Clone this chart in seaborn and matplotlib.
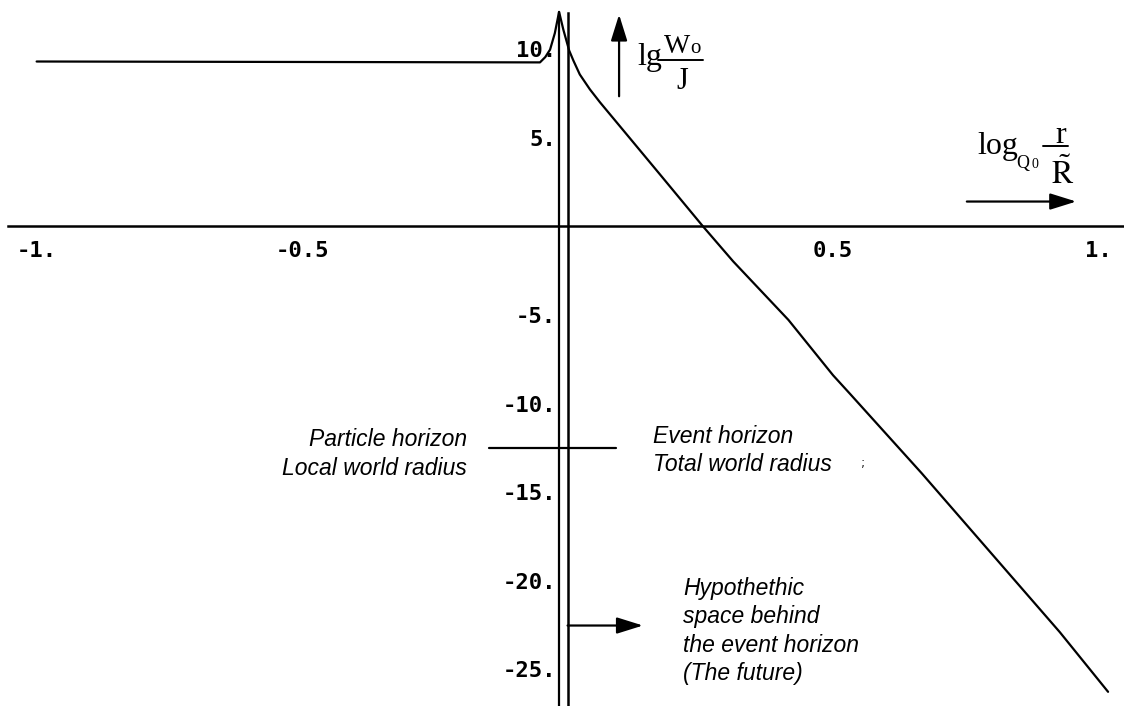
import numpy as np
import matplotlib
matplotlib.use("Agg")
import matplotlib.pyplot as plt
import seaborn as sns

# curve lg(W0/J) against log_Q0(r/R~)
curve_x = [-1.0, -0.052, -0.042, -0.033, -0.024, -0.016, -0.008, 0.003, 0.011, 0.023,
           0.042, 0.061, 0.111, 0.174, 0.255, 0.312, 0.416, 0.5, 0.532, 0.667, 0.927, 1.018]
curve_y = [9.3, 9.25, 9.55, 9.97, 10.9, 12.1, 11.1, 9.92, 9.35, 8.57,
           7.73, 7.0, 5.2, 2.93, 0.0, -1.98, -5.28, -8.4, -9.45, -13.93, -22.89, -26.26]

x_ticks = [-1, -0.5, 0.5, 1]
x_labels = ["-1.", "-0.5", "0.5", "1."]
y_ticks = [10, 5, -5, -10, -15, -20, -25]
y_labels = ["10.", "5.", "-5.", "-10.", "-15.", "-20.", "-25."]

horizon_x = -0.016          # particle horizon line
horizon_top = 12.1
marker_x = [-0.148, 0.091]  # short horizontal mark
marker_y = -12.53

xlim = (-1.069, 1.048)
ylim = (-27.06, 12.77)


def px2data(px, py):
    # place annotations by pixel position in the 1124x706 image
    return (px - 567.5) / 531.0, (228.0 - py) / 17.85


sns.set_style("white")
plt.rcParams["mathtext.fontset"] = "stix"
plt.rcParams["text.color"] = "black"

fig = plt.figure(figsize=(11.24, 7.06), dpi=100)
ax = fig.add_axes([0, 0, 1, 1])
ax.patch.set_alpha(0)

sns.lineplot(x=curve_x, y=curve_y, sort=False, color="black", lw=1.6, ax=ax)
ax.plot([horizon_x, horizon_x], [ylim[0], horizon_top], color="black", lw=1.6)
ax.plot(marker_x, [marker_y, marker_y], color="black", lw=1.6)

ax.set_xlim(*xlim)
ax.set_ylim(*ylim)

for s in ["top", "right"]:
    ax.spines[s].set_visible(False)
ax.spines["left"].set_position(("data", 0))
ax.spines["bottom"].set_position(("data", 0))
ax.spines["left"].set_bounds(ylim[0], 12.05)
ax.spines["bottom"].set_bounds(-1.054, xlim[1])
for s in ["left", "bottom"]:
    ax.spines[s].set_linewidth(1.8)
    ax.spines[s].set_color("black")

tick_font = dict(family="DejaVu Sans Mono", weight="bold", size=16, color="black")
ax.set_xticks(x_ticks)
ax.set_xticklabels(x_labels, **tick_font)
ax.set_yticks(y_ticks)
ax.set_yticklabels(y_labels, **tick_font)
ax.tick_params(direction="inout", length=11, width=1.6, color="black")
ax.tick_params(axis="x", pad=5)
ax.tick_params(axis="y", pad=3)

# axis caption  lg W_o / J
serif = dict(family="Liberation Serif", color="black")
ax.text(*px2data(637, 66), "lg", fontsize=23, ha="left", va="baseline", **serif)
ax.text(*px2data(664, 53), "W", fontsize=20, ha="left", va="baseline", **serif)
ax.text(*px2data(690, 53), "o", fontsize=15, ha="left", va="baseline", **serif)
ax.plot(*zip(px2data(658, 60), px2data(703, 60)), color="black", lw=1.4)
ax.text(*px2data(682, 90), "J", fontsize=22, ha="center", va="baseline", **serif)

# axis caption  log_Q0 r / R~
ax.text(*px2data(977, 155), "log", fontsize=23, ha="left", va="baseline", **serif)
ax.text(*px2data(1016, 169), "Q", fontsize=13, ha="left", va="baseline", **serif)
ax.text(*px2data(1031, 169), "0", fontsize=10, ha="left", va="baseline", **serif)
ax.plot(*zip(px2data(1043, 147), px2data(1068, 147)), color="black", lw=1.4)
ax.text(*px2data(1061, 144), "r", fontsize=23, ha="center", va="baseline", **serif)
ax.text(*px2data(1063, 185), r"$\tilde{\mathrm{R}}$", fontsize=23, ha="center",
        va="baseline", color="black")

arrow = dict(arrowstyle="-|>,head_length=0.8,head_width=0.25", color="black",
             lw=1.6, mutation_scale=20, shrinkA=0, shrinkB=0)
ax.annotate("", xy=(0.097, 11.95), xytext=(0.097, 7.34), arrowprops=arrow)
ax.annotate("", xy=(0.958, 1.4), xytext=(0.752, 1.4), arrowprops=arrow)
ax.annotate("", xy=(0.142, -22.52), xytext=(0.0, -22.52), arrowprops=arrow)

note = dict(family="Liberation Sans", style="italic", size=16.5, linespacing=1.3,
            color="black")
ax.text(-0.189, -12.85, "Particle horizon\nLocal world radius",
        ha="right", va="center", multialignment="right", **note)
ax.text(0.161, -12.66, "Event horizon\nTotal world radius",
        ha="left", va="center", **note)
ax.text(0.556, -13.37, ";", ha="center", va="center", fontsize=9, color="#222222")
ax.text(0.2175, -22.82, "Hypothethic\nspace behind\nthe event horizon\n(The future)",
        ha="left", va="center", **note)

fig.savefig("out.png", dpi=100)
